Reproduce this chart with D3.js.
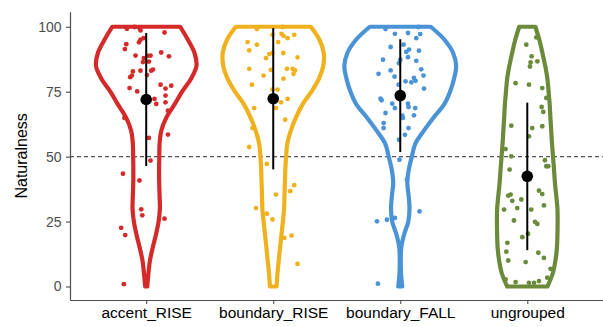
<!DOCTYPE html>
<html><head><meta charset="utf-8">
<script src="https://cdn.jsdelivr.net/npm/d3@7"></script>
<style>body{margin:0;background:#fff}svg{display:block}</style>
</head><body>
<svg id="chart" width="603" height="327"></svg>
<script>
// ---------- data ----------
const categories = ["accent_RISE", "boundary_RISE", "boundary_FALL", "ungrouped"];
const colors = ["#d42a2a", "#efb21e", "#4a93d6", "#6b8b3b"];
const yTicks = [0, 25, 50, 75, 100];
const referenceValue = 50;
const yLabel = "Naturalness";

// violin density profiles, evaluated on densityGrid
const densityGrid = [0, 5, 10, 15, 20, 25, 30, 35, 40, 45, 50, 55, 60, 65, 70, 75, 80, 85, 90, 95, 100];
const densityAccentRise   = [1.0, 2.2, 3.7, 6.5, 9.7, 12.3, 13.6, 13.3, 12.9, 12.8, 13.0, 13.3, 15.0, 20.0, 28.0, 35.7, 44.6, 50.0, 48.0, 41.5, 33.8];
const densityBoundaryRise = [3.3, 4.2, 5.5, 6.8, 8.2, 9.6, 10.8, 11.2, 11.6, 12.0, 12.8, 14.0, 17.5, 22.5, 29.0, 38.0, 45.5, 49.8, 50.2, 46.0, 37.3];
const densityBoundaryFall = [2.0, 0.8, 0.5, 1.0, 3.8, 8.0, 9.2, 8.3, 7.0, 8.5, 11.5, 15.0, 23.5, 33.0, 43.5, 49.5, 53.5, 55.6, 52.5, 44.0, 30.3];
const densityUngrouped    = [20.0, 25.3, 28.0, 29.5, 30.0, 30.2, 30.0, 28.8, 27.5, 26.6, 25.6, 24.6, 23.8, 23.0, 22.3, 21.2, 20.0, 17.8, 15.0, 12.0, 8.0];

// individual ratings and their horizontal jitter (in category units)
const valuesAccentRise = [99.2,99.9,99.5,98.6,97.8,95.6,95.0,94.0,93.3,91.4,88.9,88.8,88.9,87.9,86.4,86.6,90.1,88.6,82.8,83.1,81.2,80.6,83.1,83.5,81.4,77.7,77.3,76.2,76.4,75.1,73.5,72.2,70.3,70.9,67.7,71.3,64.9,57.2,58.5,48.5,43.4,40.8,29.7,27.4,26.1,22.6,19.8,0.9];
const jitterAccentRise = [-0.152,-0.092,-0.053,-0.045,0.144,-0.021,-0.045,-0.057,-0.157,-0.168,-0.084,0.013,0.034,-0.018,-0.026,0.021,0.118,0.179,-0.105,-0.045,-0.113,-0.126,0.039,0.053,0.006,0.113,0.197,0.152,-0.131,-0.071,0.152,0.065,0.079,0.152,0.171,0.021,-0.171,0.021,0.171,0.034,-0.183,-0.053,-0.039,-0.031,0.144,-0.197,-0.165,-0.176];

const valuesBoundaryRise = [99.1,99.9,96.9,97.3,96.5,95.6,96.9,94.1,93.1,94.1,90.9,89.5,89.9,87.9,89.9,88.2,83.8,83.4,83.8,83.8,83.2,81.2,81.9,80.0,77.7,75.8,75.8,72.2,70.9,68.7,68.7,64.2,61.0,53.7,47.2,39.0,36.7,35.4,30.2,28.0,25.8,18.7,19.6,8.7];
const jitterBoundaryRise = [-0.128,0.073,-0.006,0.065,0.081,0.113,0.165,-0.202,-0.128,0.039,-0.189,-0.031,-0.006,-0.057,0.079,0.191,-0.189,-0.018,0.108,0.152,0.171,-0.076,0.160,0.081,-0.168,-0.006,0.034,0.113,0.061,0.021,-0.150,0.094,-0.163,-0.189,-0.050,0.165,0.134,0.021,-0.136,-0.050,-0.006,0.087,0.144,0.191];

const valuesBoundaryFall = [99.1,97.3,97.6,95.6,97.2,99.9,92.2,93.1,91.2,90.3,90.8,88.3,87.3,87.3,86.0,86.9,81.9,83.2,83.6,80.8,81.2,77.7,79.0,78.6,80.3,79.2,76.2,72.3,71.7,70.4,68.7,70.4,69.1,68.7,66.8,65.8,65.9,64.9,62.9,61.0,61.0,58.4,56.5,48.8,41.1,28.9,25.1,25.7,26.4,1.1];
const jitterBoundaryFall = [-0.116,-0.042,0.061,0.126,0.157,0.144,-0.076,0.026,0.069,0.047,0.147,0.061,0,-0.136,-0.010,0.126,-0.171,-0.076,0.165,-0.045,0.183,-0.013,0.042,0.087,0.108,0.120,0.187,-0.155,-0.147,-0.063,-0.042,0.061,0.065,0.118,-0.116,0.016,0.108,0.021,-0.131,-0.131,0.065,0.037,-0.010,-0.006,0.053,0.152,-0.183,-0.105,-0.042,-0.176];

const valuesUngrouped = [93.1,95.9,88.6,86.3,84.7,86.7,78.3,77.7,76.4,72.6,69.1,67.2,61.9,61.0,61.7,57.8,52.9,50.1,45.0,48.6,46.3,46.3,36.9,35.6,35.4,35.0,33.0,33.5,30.2,31.2,29.6,29.6,25.4,24.9,24.1,20.3,19.0,16.8,13.4,13.0,11.0,10.0,9.4,6.8,1.7,1.4,1.4,2.1,2.7,3.4];
const jitterUngrouped = [-0.008,0.071,0.034,0.026,0.021,0.079,-0.092,0.013,0.118,0.150,0.113,0.126,-0.126,0.039,0.118,0.013,-0.171,-0.126,-0.139,0.139,0.150,0.165,0.092,0.118,-0.131,-0.150,-0.118,-0.047,-0.079,0.131,-0.183,0.031,-0.105,0.061,0.079,0.006,-0.039,-0.157,-0.165,0.087,0.131,-0.150,-0.013,0.183,-0.092,0.013,0.053,0.092,-0.171,0.157];

// summary: mean and standard deviation per category
const meanValues = [72.0, 72.3, 73.5, 42.4];
const sdValues   = [25.6, 27.2, 21.7, 28.4];

// ---------- build ----------
const densities = [densityAccentRise, densityBoundaryRise, densityBoundaryFall, densityUngrouped];
const pointValues = [valuesAccentRise, valuesBoundaryRise, valuesBoundaryFall, valuesUngrouped];
const pointJitter = [jitterAccentRise, jitterBoundaryRise, jitterBoundaryFall, jitterUngrouped];

const W = 603, H = 327;
const mLeft = 70, mRight = 603.5, mTop = 11.7, mBottom = 300;
const svg = d3.select("#chart");

const x = d3.scalePoint().domain(categories).range([mLeft, mRight]).padding(0.6);
const y = d3.scaleLinear().domain([-5.2, 105.8]).range([mBottom, mTop]);
const step = x.step();
const wScale = d3.scaleLinear()
  .domain([0, d3.max(densities.flat())])
  .range([0, step * 0.44]);

// reference dashed line
svg.append("line")
  .attr("x1", mLeft).attr("x2", W)
  .attr("y1", y(referenceValue)).attr("y2", y(referenceValue))
  .attr("stroke", "#555").attr("stroke-width", 1.1)
  .attr("stroke-dasharray", "4,3");

// violins
categories.forEach((c, i) => {
  const cx = x(c);
  const prof = densityGrid.map((v, k) => ({ v, w: densities[i][k] }));
  const area = d3.area()
    .x0(d => cx - wScale(d.w))
    .x1(d => cx + wScale(d.w))
    .y(d => y(d.v))
    .curve(d3.curveCatmullRom.alpha(0.5));
  svg.append("path")
    .attr("d", area(prof))
    .attr("fill", "none")
    .attr("stroke", colors[i])
    .attr("stroke-width", 4.2)
    .attr("stroke-linejoin", "round");
});

// jittered points
categories.forEach((c, i) => {
  const cx = x(c);
  svg.append("g").selectAll("circle")
    .data(pointValues[i].map((v, k) => ({ v, j: pointJitter[i][k] })))
    .join("circle")
    .attr("cx", d => cx + d.j * step)
    .attr("cy", d => y(d.v))
    .attr("r", 2.4)
    .attr("fill", colors[i]);
});

// mean ± sd
categories.forEach((c, i) => {
  const cx = x(c);
  svg.append("line")
    .attr("x1", cx).attr("x2", cx)
    .attr("y1", y(meanValues[i] - sdValues[i]))
    .attr("y2", y(meanValues[i] + sdValues[i]))
    .attr("stroke", "#000").attr("stroke-width", 2);
  svg.append("circle")
    .attr("cx", cx).attr("cy", y(meanValues[i]))
    .attr("r", 5.8).attr("fill", "#000");
});

// axes
const yAxis = svg.append("g")
  .attr("transform", `translate(${mLeft},0)`)
  .call(d3.axisLeft(y).tickValues(yTicks).tickSize(4).tickSizeOuter(0).tickPadding(4.5));
yAxis.selectAll("text")
  .attr("fill", "#4d4d4d")
  .style("font-family", "'Liberation Sans', Arial, sans-serif")
  .style("font-size", "14px");

const xAxis = svg.append("g")
  .attr("transform", `translate(0,${mBottom})`)
  .call(d3.axisBottom(x).tickSize(4).tickSizeOuter(0).tickPadding(3));
xAxis.selectAll("text")
  .attr("fill", "#000")
  .style("font-family", "'Liberation Sans', Arial, sans-serif")
  .style("font-size", "15.5px");

[yAxis, xAxis].forEach(g => {
  g.select(".domain").attr("stroke", "#4d4d4d").attr("stroke-width", 1.2);
  g.selectAll(".tick line").attr("stroke", "#4d4d4d").attr("stroke-width", 1.1);
});

svg.append("text")
  .attr("transform", `translate(26.5,${(mTop + mBottom) / 2}) rotate(-90)`)
  .attr("text-anchor", "middle")
  .style("font-family", "'Liberation Sans', Arial, sans-serif")
  .style("font-size", "16px")
  .attr("fill", "#000")
  .text(yLabel);
</script>
</body></html>
